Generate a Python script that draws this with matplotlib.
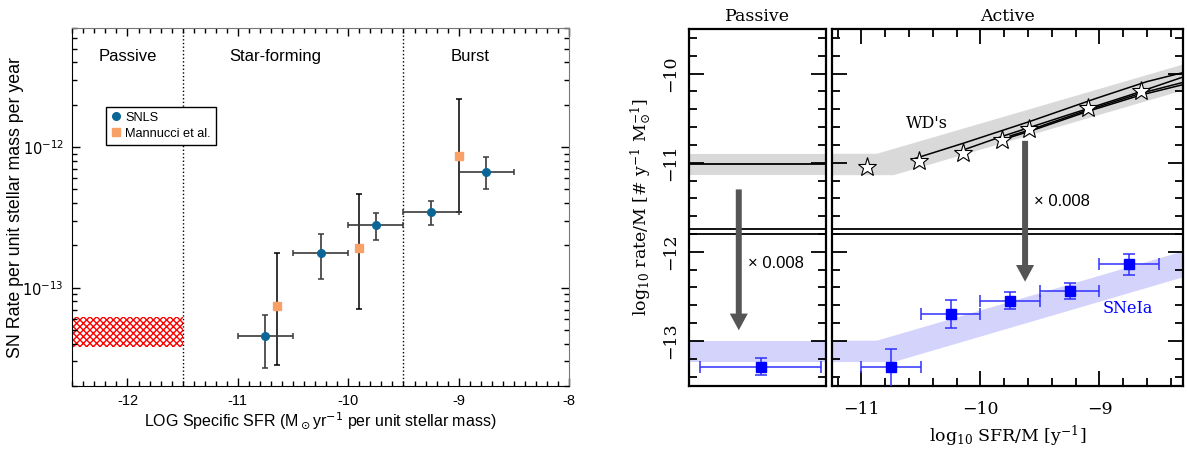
import matplotlib
matplotlib.use('Agg')
import numpy as np
import matplotlib.pyplot as plt
from matplotlib.patches import Rectangle
from matplotlib.ticker import MultipleLocator, NullFormatter, NullLocator

# ---- left panel: SN rate vs specific SFR ----
snls_x = [-10.75, -10.25, -9.75, -9.25, -8.75]
snls_rate = [4.55e-14, 1.78e-13, 2.79e-13, 3.46e-13, 6.68e-13]
snls_lo = [2.68e-14, 1.16e-13, 2.18e-13, 2.80e-13, 5.03e-13]
snls_hi = [6.4e-14, 2.42e-13, 3.4e-13, 4.12e-13, 8.45e-13]
snls_xerr = 0.25

mann_x = [-10.65, -9.9, -9.0]
mann_rate = [7.4e-14, 1.92e-13, 8.6e-13]
mann_lo = [2.82e-14, 7.1e-14, 3.48e-13]
mann_hi = [1.77e-13, 4.63e-13, 2.2e-12]

passive_box = [3.77e-14, 6.16e-14]   # hatched passive rate range
region_bounds = [-11.5, -9.5]
region_names = ['Passive', 'Star-forming', 'Burst']
left_xticks = [-12, -11, -10, -9, -8]
left_xticklabels = ['-12', '-11', '-10', '-9', '-8']
left_yticks = [1e-13, 1e-12]
left_yticklabels = [r'$10^{-13}$', r'$10^{-12}$']

# ---- right panels: WD birth rate and SNIa rate ----
scale = 0.008
wd_passive = -11.01
band_passive = [-11.14, -10.90]
band_hi_x = [-11.25, -10.87, -8.30]
band_hi_y = [-10.90, -10.90, -9.90]
band_lo_x = [-11.25, -10.73, -8.30]
band_lo_y = [-11.14, -11.14, -10.19]

star_x = [-10.95, -10.52, -10.15, -9.82, -9.59, -9.10, -8.65]
star_y = [-11.05, -10.98, -10.89, -10.75, -10.62, -10.39, -10.20]

curve_a_x = [-10.58, -10.14, -9.58, -9.02, -8.60, -8.30]
curve_a_y = [-10.965, -10.78, -10.535, -10.275, -10.09, -9.99]
curve_b_x = [-10.14, -9.83, -9.30, -8.74, -8.30]
curve_b_y = [-10.855, -10.71, -10.48, -10.24, -10.04]
curve_c_x = [-9.75, -9.58, -9.10, -8.65, -8.30]
curve_c_y = [-10.70, -10.63, -10.41, -10.22, -10.10]
curve_d_y = [-10.715, -10.645, -10.425, -10.24, -10.125]

sn_x = [-10.75, -10.25, -9.75, -9.25, -8.75]
sn_y = [-13.29, -12.70, -12.55, -12.44, -12.14]
sn_hi = [-13.09, -12.54, -12.45, -12.35, -12.03]
sn_lo = [-13.60, -12.85, -12.645, -12.53, -12.265]
sn_xerr = 0.25

sn_passive_x = -12.0
sn_passive_y = -13.29
sn_passive_hi = -13.19
sn_passive_lo = -13.385
sn_passive_xerr = 0.5

split_lines = [-11.745, -11.795]

fig = plt.figure(figsize=(11.87, 4.51), dpi=100)

# ================= left panel =================
sans = ['Liberation Sans', 'DejaVu Sans']
ax = fig.add_axes([0.0609, 0.1441, 0.4185, 0.7931])
ax.set_yscale('log')
ax.set_xlim(-12.5, -8)
ax.set_ylim(2e-14, 7e-12)

ax.add_patch(Rectangle((-12.5, passive_box[0]), 1.0, passive_box[1] - passive_box[0],
                       facecolor='white', edgecolor='red', hatch='xxxxx', lw=0, zorder=1))
for b in region_bounds:
    ax.axvline(b, color='k', ls=':', lw=1)

ax.errorbar(mann_x, mann_rate,
            yerr=[np.array(mann_rate) - np.array(mann_lo), np.array(mann_hi) - np.array(mann_rate)],
            fmt='none', ecolor='black', elinewidth=1.1, capsize=2.5, capthick=1.1, zorder=3)
ax.errorbar(snls_x, snls_rate, xerr=snls_xerr,
            yerr=[np.array(snls_rate) - np.array(snls_lo), np.array(snls_hi) - np.array(snls_rate)],
            fmt='none', ecolor='#3a3a3a', elinewidth=1.2, capsize=2.5, capthick=1.1, zorder=3)
ax.plot(snls_x, snls_rate, 'o', color='#0b6698', ms=5.5, zorder=4, label='SNLS')
ax.plot(mann_x, mann_rate, 's', color='#f8a167', ms=5.5, zorder=4, label='Mannucci et al.')

ax.text(-12.0, 4.4e-12, region_names[0], ha='center', va='center', fontsize=12, family=sans)
ax.text(-10.66, 4.4e-12, region_names[1], ha='center', va='center', fontsize=12, family=sans)
ax.text(-8.9, 4.4e-12, region_names[2], ha='center', va='center', fontsize=12, family=sans)

leg = ax.legend(loc='upper left', bbox_to_anchor=(0.068, 0.781), borderaxespad=0,
                fancybox=False, framealpha=1, edgecolor='black', handlelength=0.8,
                handletextpad=0.3, borderpad=0.4, labelspacing=0.3,
                prop={'family': sans, 'size': 9.2})
leg.get_frame().set_linewidth(1.0)

ax.set_xticks(left_xticks, left_xticklabels, family=sans, fontsize=10.5)
ax.set_yticks(left_yticks, left_yticklabels, family=sans, fontsize=10.5)
ax.xaxis.set_minor_locator(MultipleLocator(0.1))
ax.yaxis.set_minor_formatter(NullFormatter())
ax.tick_params(which='both', direction='in', top=True, right=True)
ax.tick_params(which='major', length=6, width=1, pad=6)
ax.tick_params(which='minor', length=3.5, width=1)
for s in ['top', 'right']:
    ax.spines[s].set_color('#777777')
ax.set_xlabel(r'LOG Specific SFR (M$_\odot$yr$^{-1}$ per unit stellar mass)',
              family=sans, fontsize=11.5, labelpad=2, math_fontfamily='dejavusans')
ax.set_ylabel('SN Rate per unit stellar mass per year', family=sans, fontsize=12.8)
ax.yaxis.set_label_coords(-0.097, 0.5)

# ================= right panels =================
serif = ['DejaVu Serif']
gray = '#d9d9d9'
lblue = '#d3d3fb'
shift = np.log10(scale)

ap = fig.add_axes([0.5807, 0.1452, 0.1149, 0.7905])
aa = fig.add_axes([0.7007, 0.1452, 0.2957, 0.7905])

for a in (ap, aa):
    a.set_ylim(-13.5, -9.5)
    for sp in a.spines.values():
        sp.set_linewidth(1.6)
    for yl in split_lines:
        a.axhline(yl, color='black', lw=1.3, zorder=5)
    a.yaxis.set_major_locator(MultipleLocator(1))
    a.yaxis.set_minor_locator(MultipleLocator(0.2))
    a.tick_params(which='both', direction='in', left=True, right=True, width=1.3)
    a.tick_params(which='major', length=11)
    a.tick_params(which='minor', length=5.5)

# passive column
ap.set_xlim(-12.59, -11.46)
ap.fill_between([-12.59, -11.46], band_passive[0], band_passive[1], color=gray, lw=0)
ap.fill_between([-12.59, -11.46], band_passive[0] + shift, band_passive[1] + shift,
                color=lblue, lw=0)
ap.axhline(wd_passive, color='black', lw=1.3)
ap.errorbar([sn_passive_x], [sn_passive_y], xerr=sn_passive_xerr,
            yerr=[[sn_passive_y - sn_passive_lo], [sn_passive_hi - sn_passive_y]],
            fmt='s', color='#0000ff', ms=7, ecolor='#3030ff', elinewidth=1.1,
            capsize=4, capthick=1.1, zorder=6)
ap.annotate('', xy=(-12.18, -12.88), xytext=(-12.18, -11.30),
            arrowprops=dict(facecolor='#555555', edgecolor='none', width=4.3,
                            headwidth=13, headlength=12, shrink=0), zorder=7)
ap.text(-12.10, -12.134, u'\u00d7 0.008', ha='left', va='center', fontsize=12, family=sans)
ap.xaxis.set_major_locator(NullLocator())
ap.set_yticks([-10, -11, -12, -13], [u'\u221210', u'\u221211', u'\u221212', u'\u221213'],
              rotation=90, va='center', family=serif, fontsize=12.5)
ap.tick_params(axis='y', pad=7)
ap.set_title('Passive', family=serif, fontsize=12.5, pad=6)
ap.set_ylabel(r'log$_{10}$ rate/M [# y$^{-1}$ M$_{\odot}^{-1}$]', family=serif,
              fontsize=12.5, labelpad=6, math_fontfamily='dejavuserif')

# active column
aa.set_xlim(-11.25, -8.30)
top_x = np.concatenate([band_hi_x, band_lo_x[::-1]])
top_y = np.concatenate([band_hi_y, band_lo_y[::-1]])
aa.fill(top_x, top_y, color=gray, lw=0)
aa.fill(top_x, top_y + shift, color=lblue, lw=0)
for cx, cy in [(curve_a_x, curve_a_y), (curve_b_x, curve_b_y),
               (curve_c_x, curve_c_y), (curve_c_x, curve_d_y)]:
    aa.plot(cx, cy, color='black', lw=1.1, zorder=3)
aa.plot(star_x, star_y, '*', ms=14, mfc='white', mec='black', mew=0.8, zorder=4)
aa.errorbar(sn_x, sn_y, xerr=sn_xerr,
            yerr=[np.array(sn_y) - np.array(sn_lo), np.array(sn_hi) - np.array(sn_y)],
            fmt='s', color='#0000ff', ms=7, ecolor='#3030ff', elinewidth=1.1,
            capsize=4, capthick=1.1, zorder=6)
aa.annotate('', xy=(-9.625, -12.335), xytext=(-9.625, -10.755),
            arrowprops=dict(facecolor='#555555', edgecolor='none', width=4.3,
                            headwidth=13, headlength=12, shrink=0), zorder=7)
aa.text(-9.55, -11.44, u'\u00d7 0.008', ha='left', va='center', fontsize=12, family=sans)
aa.text(-10.63, -10.555, "WD's", ha='left', va='center', fontsize=11.5, family=serif)
aa.text(-8.97, -12.64, 'SNeIa', ha='left', va='center', fontsize=11.5, family=serif,
        color='#0000ff')
aa.set_xticks([-11, -10, -9], [u'\u221211', u'\u221210', u'\u22129'],
              family=serif, fontsize=12.5)
aa.xaxis.set_minor_locator(MultipleLocator(0.2))
aa.tick_params(axis='x', which='both', top=True, bottom=True, width=1.3)
aa.tick_params(axis='x', pad=11)
aa.set_yticklabels([])
aa.set_title('Active', family=serif, fontsize=12.5, pad=6)
aa.set_xlabel(r'log$_{10}$ SFR/M [y$^{-1}$]', family=serif, fontsize=12.5, labelpad=4,
              math_fontfamily='dejavuserif')

fig.savefig('out.png', dpi=100)
